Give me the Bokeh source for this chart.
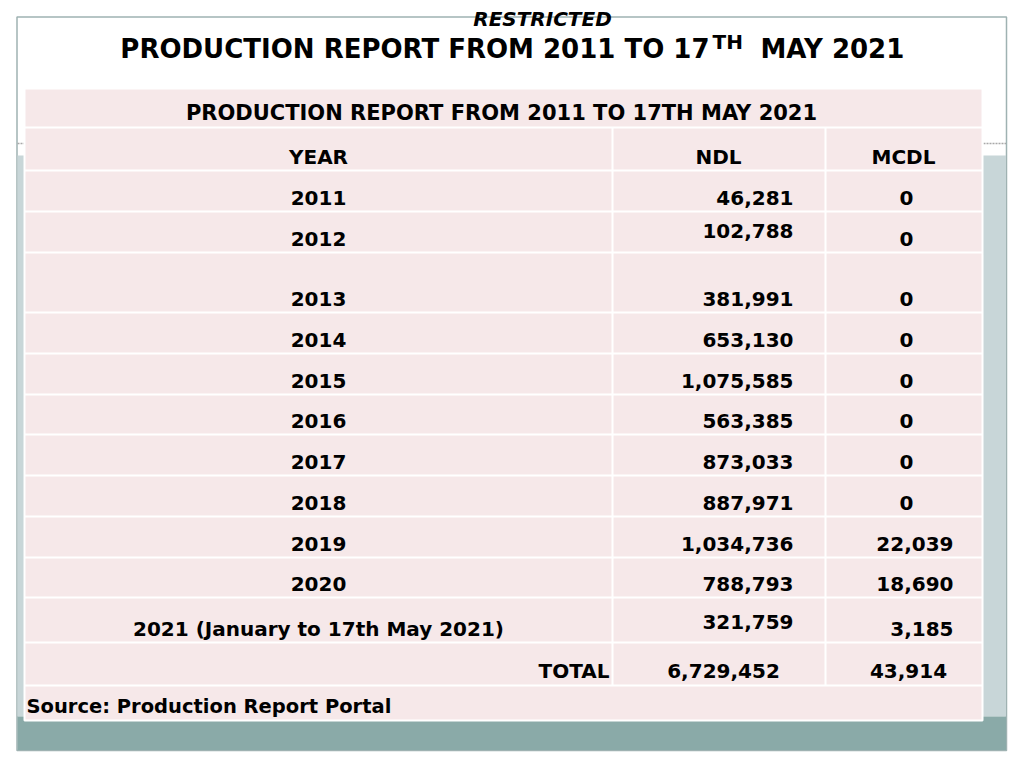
from bokeh.plotting import figure
from bokeh.models import ColumnDataSource, Range1d
from bokeh.embed import file_html
from bokeh.resources import INLINE
from bokeh.core.properties import value

# ---------------- data ----------------
year_labels = ["2011", "2012", "2013", "2014", "2015", "2016", "2017", "2018",
               "2019", "2020", "2021 (January to 17th May 2021)"]
ndl = [46281, 102788, 381991, 653130, 1075585, 563385, 873033, 887971,
       1034736, 788793, 321759]
mcdl = [0, 0, 0, 0, 0, 0, 0, 0, 22039, 18690, 3185]
headers = ["YEAR", "NDL", "MCDL"]
banner = "RESTRICTED"
title_main = "PRODUCTION REPORT FROM 2011 TO 17"
title_sup = "TH"
title_tail = "MAY 2021"
table_title = "PRODUCTION REPORT FROM 2011 TO 17TH MAY 2021"
total_label = "TOTAL"
source_note = "Source: Production Report Portal"

# ---------------- layout (pixel-like coordinates) ----------------
FONT = "DejaVu Sans"
PINK = "#f6e8e9"
BLUEGRAY = "#c8d6d8"
TEAL = "#8aaaa8"
FRAME = "#9fb2b2"

row_edges = [88, 127, 170, 211, 252, 312, 353, 394, 434, 475, 516, 557, 597, 642, 685, 720]
col_lines = [612, 825]
year_x = 318
ndl_right = 793
mcdl_zero_x = 906
mcdl_right = 953
ndl_lift = [0, 8, 0, 0, 0, 0, 0, 0, 0, 0, 7]
text_drop = 14

p = figure(width=1008, height=752, x_range=Range1d(0, 1008), y_range=Range1d(752, 0),
           output_backend="svg", toolbar_location=None, min_border=0,
           x_axis_location=None, y_axis_location=None)
p.grid.visible = False
p.outline_line_color = None
p.background_fill_color = "white"
p.border_fill_color = "white"

# slide frame and bands
p.quad(left=[16.5], right=[1006], top=[16.5], bottom=[750], fill_color="white",
       line_color=FRAME, line_width=1.5)
p.quad(left=[17], right=[1005.5], top=[155], bottom=[716], fill_color=BLUEGRAY, line_color=None)
p.quad(left=[17], right=[1005.5], top=[716], bottom=[749.5], fill_color=TEAL, line_color=None)
p.segment(x0=[17], y0=[143], x1=[1005.5], y1=[143], line_color="#a8a8a8", line_width=1.5,
          line_dash="2 1")

# table body
p.quad(left=[24], right=[982], top=[row_edges[0]], bottom=[row_edges[-1]],
       fill_color=PINK, line_color="white", line_width=2)
inner = row_edges[1:-1]
p.segment(x0=[24] * len(inner), y0=inner, x1=[982] * len(inner), y1=inner,
          line_color="white", line_width=2)
p.segment(x0=col_lines, y0=[row_edges[1]] * 2, x1=col_lines, y1=[row_edges[-2]] * 2,
          line_color="white", line_width=2)

def txt(xs, ys, texts, size, align="center", style="bold", color="black"):
    src = ColumnDataSource(dict(x=xs, y=ys, t=texts))
    p.text(x="x", y="y", text="t", source=src, text_font=value(FONT),
           text_font_size=f"{size}px", text_font_style=style, text_align=align,
           text_baseline="middle", text_color=color)

# banner and slide title
txt([542], [18], [banner], 20, style="bold italic")
txt([709], [48], [title_main], 26, align="right")
txt([712], [41], [title_sup], 20, align="left")
txt([760], [48], [title_tail], 26, align="left")

# table title and headers
txt([501], [row_edges[1] - 15], [table_title], 21)
hy = row_edges[2] - text_drop
txt([year_x, 718, 903], [hy] * 3, headers, 20)

# data rows
bottoms = row_edges[3:14]
txt([year_x] * len(year_labels), [b - text_drop for b in bottoms], year_labels, 20)
txt([ndl_right] * len(ndl), [b - text_drop - l for b, l in zip(bottoms, ndl_lift)],
    [f"{v:,}" for v in ndl], 20, align="right")
zx, zy, zt, nx, ny, nt = [], [], [], [], [], []
for b, v in zip(bottoms, mcdl):
    if v == 0:
        zx.append(mcdl_zero_x); zy.append(b - text_drop); zt.append(f"{v:,}")
    else:
        nx.append(mcdl_right); ny.append(b - text_drop); nt.append(f"{v:,}")
txt(zx, zy, zt, 20)
txt(nx, ny, nt, 20, align="right")

# totals
ty = row_edges[14] - 15
txt([609], [ty], [total_label], 20, align="right")
txt([723], [ty], [f"{sum(ndl):,}"], 20)
txt([908], [ty], [f"{sum(mcdl):,}"], 20)

# source
txt([26], [row_edges[15] - text_drop], [source_note], 19.5, align="left")

open("out.html", "w").write(file_html(p, INLINE))
